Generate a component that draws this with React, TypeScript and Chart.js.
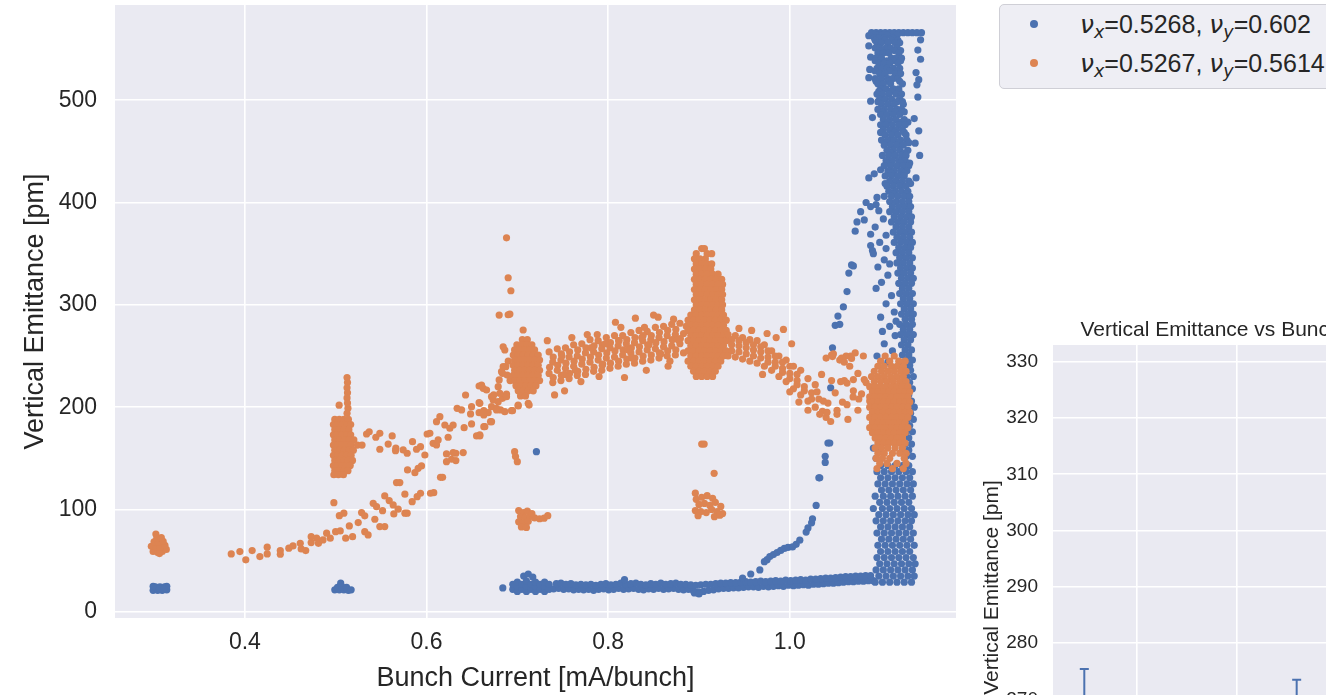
import { useEffect, useRef } from "react";
import { Chart, registerables } from "chart.js";

Chart.register(...registerables);

const FONT = "'Liberation Sans', Arial, Helvetica, sans-serif";
const MATH_FONT = "'DejaVu Sans', sans-serif";
const TEXT = "#262626";
const BLUE = "#4C72B0";
const ORANGE = "#DD8452";
const AXES_BG = "#EAEAF2";
const DOT_RADIUS = 3.6;

// Tunes of the two machine settings (legend)
const tuneX = ["0.5268", "0.5267"];
const tuneY = ["0.602", "0.5614"];
const seriesColors = [BLUE, ORANGE];

// Main scatter: axis ranges and ticks
const currentRange = [0.257, 1.183];
const emittanceRange = [-6, 593];
const currentTicks = [0.4, 0.6, 0.8, 1.0];
const emittanceTicks = [0, 100, 200, 300, 400, 500];

// ---------- nu_y = 0.602 (blue) : [current, emittance] pairs ----------
const blueAt030 = [
  0.299, 21, 0.304, 21, 0.309, 21, 0.314, 21.5, 0.3015, 24.5, 0.3065, 24.5, 0.3115, 24.5,
  0.299, 25, 0.314, 25, 0.306, 22.5, 0.311, 22,
];
const blueAt051 = [
  0.499, 21.5, 0.504, 21.5, 0.509, 21.5, 0.514, 21, 0.502, 24, 0.507, 24.5, 0.512, 24,
  0.5055, 28, 0.517, 21.5,
];
const blueAt072 = [
  0.684, 23.4, 0.695, 22, 0.695, 27, 0.7, 20, 0.7, 25, 0.7, 29, 0.705, 22, 0.705, 27, 0.707, 35,
  0.71, 20, 0.71, 25, 0.71, 30, 0.712, 37, 0.715, 22, 0.715, 27, 0.717, 34, 0.72, 20, 0.72, 25,
  0.72, 29, 0.725, 22, 0.725, 27, 0.73, 20, 0.73, 25, 0.73, 29, 0.735, 22, 0.735, 27, 0.721, 156.5,
];
const blueBaseLow = [
  0.74, 22.5, 0.7455, 23, 0.751, 22, 0.7565, 22.5, 0.762, 21.5, 0.7675, 22, 0.773, 21.5,
  0.7785, 22, 0.784, 21, 0.7895, 22, 0.795, 22.5, 0.8005, 21.5, 0.806, 22, 0.8115, 23,
  0.817, 22, 0.8225, 22.5, 0.828, 23, 0.8335, 22, 0.839, 21.5, 0.8445, 22.5, 0.85, 22,
  0.8555, 23, 0.861, 22, 0.8665, 22.5, 0.872, 23, 0.8775, 22, 0.883, 21.5, 0.8885, 22,
  0.894, 20.5, 0.8995, 19.5, 0.905, 20, 0.9105, 21, 0.916, 21.5, 0.9215, 22.5, 0.927, 23,
  0.9325, 23, 0.938, 23.5, 0.9435, 23.5, 0.949, 24, 0.9545, 24.5, 0.96, 24.5, 0.9655, 24,
  0.971, 25, 0.9765, 24.5, 0.982, 25, 0.9875, 25.5, 0.993, 25, 0.9985, 26, 1.004, 25.5,
  1.0095, 26, 1.015, 26.5, 1.0205, 26, 1.026, 27, 1.0315, 27, 1.037, 27.5, 1.0425, 28,
  1.048, 28, 1.0535, 28.5, 1.059, 29, 1.0645, 29.5, 1.07, 29.5, 1.0755, 30, 1.081, 30,
  1.0865, 30.5, 1.092, 30.5, 0.895, 18.5, 0.9, 17.5,
];
const blueBaseHigh = [
  0.743, 27.5, 0.748, 28, 0.7535, 27, 0.759, 27.5, 0.7645, 26.5, 0.77, 27, 0.7755, 26.5,
  0.781, 27, 0.7865, 26, 0.792, 27, 0.7975, 27.5, 0.803, 26.5, 0.8085, 27, 0.814, 28,
  0.8195, 27, 0.825, 27.5, 0.8305, 28, 0.836, 27, 0.8415, 26.5, 0.847, 27.5, 0.8525, 27,
  0.858, 28, 0.8635, 27, 0.869, 27.5, 0.8745, 28, 0.88, 27, 0.8855, 27, 0.891, 26.5,
  0.8965, 26, 0.902, 26.5, 0.9075, 27, 0.913, 27, 0.9185, 27.5, 0.924, 28, 0.9295, 28,
  0.935, 28.5, 0.9405, 28.5, 0.946, 29, 0.9515, 29.5, 0.957, 29, 0.9625, 29.5, 0.968, 30,
  0.9735, 29.5, 0.979, 30, 0.9845, 30.5, 0.99, 30, 0.9955, 31, 1.001, 30.5, 1.0065, 31,
  1.012, 31.5, 1.0175, 31, 1.023, 32, 1.0285, 32, 1.034, 32.5, 1.0395, 33, 1.045, 33,
  1.0505, 33.5, 1.056, 34, 1.0615, 34.5, 1.067, 34.5, 1.0725, 35, 1.078, 35, 1.0835, 35.5,
  1.089, 35.5, 0.818, 31.5,
];
const blueBlowUp = [
  0.948, 33, 0.957, 37, 0.967, 41, 0.972, 49, 0.975, 51, 0.978, 54, 0.982, 56, 0.986, 58,
  0.99, 60, 0.994, 62, 0.998, 63, 1.003, 63.5, 1.007, 66, 1.011, 70, 1.018, 78, 1.02, 82,
  1.024, 87, 1.025, 91, 1.029, 104, 1.032, 131, 1.033, 131, 1.039, 146, 1.039, 152,
  1.042, 165, 1.044, 165, 1.045, 219, 1.047, 258, 1.05, 280, 1.055, 281, 1.053, 289,
  1.059, 298, 1.063, 313, 1.065, 331, 1.068, 339, 1.07, 338, 1.072, 372, 1.074, 381,
  1.078, 391, 1.082, 383, 1.084, 400, 1.089, 396, 1.095, 398, 1.089, 358, 1.091, 353,
  1.087, 424, 1.093, 428, 1.096, 405, 1.1, 432, 1.091, 483, 1.089, 499, 1.087, 522,
  1.089, 542, 1.087, 563, 1.087, 553, 1.088, 530,
];
const blueColumnEdge = [
  1.144, 559, 1.141, 549, 1.144, 540, 1.139, 527, 1.142, 520, 1.14, 515, 1.141, 503,
  1.137, 482, 1.142, 470, 1.138, 458, 1.143, 446, 1.139, 424,
  1.098, 392, 1.103, 384, 1.094, 376, 1.106, 368, 1.099, 361, 1.092, 350, 1.104, 344,
  1.097, 337, 1.108, 329, 1.101, 322, 1.095, 316, 1.106, 355, 1.089, 369, 1.11, 340,
  1.112, 309, 1.106, 301, 1.115, 293, 1.1, 288, 1.11, 279, 1.116, 270, 1.104, 262,
  1.113, 255, 1.096, 250, 1.108, 244, 1.117, 284, 1.102, 274,
  1.1, 220, 1.105, 200, 1.095, 180, 1.11, 170, 1.098, 158, 1.092, 160, 1.095, 150,
];
// rows of the saturated column: [emittance, current, current, ...]
const blueColumnRows = [
  [566, 1.09, 1.095, 1.1, 1.105, 1.11, 1.115, 1.12, 1.125, 1.13, 1.135, 1.14, 1.145],
  [563.5, 1.096, 1.101, 1.107, 1.118],
  [561, 1.093, 1.098, 1.104, 1.113],
  [558.5, 1.094, 1.105, 1.112, 1.119],
  [556, 1.096, 1.101, 1.108, 1.116, 1.121],
  [551, 1.094, 1.099, 1.106, 1.111, 1.118],
  [548.5, 1.101, 1.115, 1.122],
  [546, 1.097, 1.103, 1.109, 1.12],
  [541, 1.095, 1.101, 1.112, 1.117, 1.123],
  [538.5, 1.094, 1.107, 1.114, 1.122],
  [536, 1.098, 1.104, 1.11, 1.119],
  [531, 1.096, 1.102, 1.107, 1.114, 1.121],
  [528.5, 1.094, 1.11, 1.118],
  [526, 1.099, 1.105, 1.116, 1.122],
  [521, 1.094, 1.101, 1.108, 1.113, 1.119],
  [518.5, 1.095, 1.108, 1.121],
  [516, 1.097, 1.103, 1.111, 1.124],
  [511, 1.1, 1.106, 1.114, 1.12],
  [508.5, 1.098, 1.111, 1.12],
  [506, 1.096, 1.102, 1.109, 1.117, 1.123],
  [501, 1.099, 1.105, 1.112, 1.121],
  [498.5, 1.097, 1.118, 1.124],
  [496, 1.101, 1.108, 1.115, 1.125],
  [491, 1.097, 1.104, 1.111, 1.118, 1.123],
  [488.5, 1.102, 1.116, 1.126],
  [486, 1.1, 1.107, 1.114, 1.121],
  [481, 1.103, 1.11, 1.117, 1.126],
  [478.5, 1.108, 1.123, 1.13],
  [476, 1.1, 1.106, 1.113, 1.12, 1.127],
  [471, 1.103, 1.11, 1.117, 1.124],
  [468.5, 1.1, 1.115, 1.126],
  [466, 1.105, 1.112, 1.119, 1.128],
  [461, 1.101, 1.108, 1.115, 1.122, 1.129],
  [458.5, 1.106, 1.12, 1.131],
  [456, 1.104, 1.111, 1.118, 1.125],
  [451, 1.107, 1.114, 1.121, 1.13],
  [448.5, 1.111, 1.126],
  [446, 1.102, 1.109, 1.116, 1.123, 1.128],
  [441, 1.106, 1.113, 1.12, 1.127],
  [438.5, 1.108, 1.122, 1.132],
  [436, 1.104, 1.111, 1.118, 1.125, 1.131],
  [431, 1.108, 1.115, 1.122, 1.129],
  [428.5, 1.112, 1.126],
  [426, 1.105, 1.112, 1.119, 1.126],
  [421, 1.11, 1.117, 1.124, 1.131],
  [418.5, 1.105, 1.121, 1.133],
  [416, 1.107, 1.114, 1.121, 1.128],
  [411, 1.109, 1.116, 1.123, 1.13],
  [408.5, 1.114, 1.128],
  [406, 1.104, 1.112, 1.119, 1.126, 1.132],
  [401, 1.11, 1.117, 1.124, 1.131],
  [396, 1.113, 1.12, 1.127, 1.133],
  [391, 1.11, 1.117, 1.124, 1.131],
  [386, 1.115, 1.122, 1.129, 1.134],
  [381, 1.112, 1.119, 1.126, 1.133],
  [376, 1.117, 1.124, 1.131],
  [371, 1.114, 1.121, 1.128, 1.134],
  [366, 1.118, 1.125, 1.132],
  [361, 1.115, 1.122, 1.129, 1.135],
  [356, 1.12, 1.127, 1.133],
  [351, 1.117, 1.124, 1.131],
  [346, 1.121, 1.128, 1.135],
  [341, 1.118, 1.125, 1.132],
  [336, 1.122, 1.129, 1.135],
  [331, 1.119, 1.126, 1.133],
  [326, 1.123, 1.13, 1.136],
  [321, 1.12, 1.127, 1.134],
  [316, 1.124, 1.131],
  [311, 1.121, 1.128, 1.135],
  [306, 1.125, 1.132],
  [301, 1.122, 1.129, 1.136],
  [296, 1.126, 1.133],
  [291, 1.123, 1.13, 1.136],
  [286, 1.127, 1.134],
  [281, 1.121, 1.128, 1.135],
  [276, 1.125, 1.132],
  [271, 1.122, 1.129, 1.136],
  [266, 1.126, 1.133],
  [261, 1.123, 1.13],
  [256, 1.127, 1.134],
  [251, 1.124, 1.131],
  [246, 1.128, 1.135],
  [241, 1.125, 1.132],
  [236, 1.126, 1.133],
  [230, 1.129, 1.136],
  [224, 1.125, 1.132],
  [218, 1.128, 1.135],
  [212, 1.124, 1.131],
  [206, 1.127, 1.134],
  [200, 1.13, 1.137],
  [194, 1.126, 1.133],
  [188, 1.129, 1.136],
  [182, 1.125, 1.132],
  [176, 1.128, 1.135],
  [170, 1.131],
  [164, 1.127, 1.134],
  [158, 1.124, 1.131],
  [152, 1.128, 1.135],
  [143, 1.1, 1.108, 1.116, 1.124, 1.131],
  [137, 1.096, 1.104, 1.112, 1.12, 1.128, 1.135],
  [131, 1.1, 1.108, 1.116, 1.124, 1.132],
  [125, 1.097, 1.105, 1.113, 1.121, 1.129, 1.136],
  [119, 1.101, 1.109, 1.117, 1.125, 1.133],
  [113, 1.094, 1.103, 1.111, 1.119, 1.127, 1.135],
  [107, 1.099, 1.107, 1.115, 1.123, 1.131],
  [101, 1.092, 1.102, 1.11, 1.118, 1.126, 1.134],
  [95, 1.098, 1.106, 1.114, 1.122, 1.13, 1.137],
  [89, 1.095, 1.103, 1.111, 1.119, 1.127, 1.134],
  [83, 1.1, 1.108, 1.116, 1.124, 1.132],
  [77, 1.096, 1.104, 1.112, 1.12, 1.128, 1.136],
  [71, 1.101, 1.109, 1.117, 1.125, 1.133],
  [65, 1.097, 1.105, 1.113, 1.121, 1.129, 1.137],
  [59, 1.1, 1.108, 1.116, 1.124, 1.132],
  [53, 1.096, 1.104, 1.112, 1.12, 1.128, 1.136],
  [47, 1.099, 1.107, 1.115, 1.123, 1.131, 1.138],
  [41, 1.095, 1.103, 1.111, 1.119, 1.127, 1.135],
  [35, 1.098, 1.106, 1.114, 1.122, 1.13, 1.137],
  [29, 1.094, 1.102, 1.11, 1.118, 1.126, 1.134],
];

// ---------- nu_y = 0.5614 (orange) ----------
const orangeAt030 = [
  0.299, 59, 0.304, 58, 0.309, 59, 0.3135, 61, 0.297, 64, 0.302, 63.5, 0.307, 63, 0.312, 65,
  0.3, 68.5, 0.305, 68, 0.31, 69, 0.303, 72, 0.308, 72.5, 0.302, 76, 0.306, 57,
];
const orangeLowBranch = [
  0.385, 56.6, 0.3945, 58.9, 0.401, 50.8, 0.408, 59.9, 0.4165, 54, 0.4246, 63.2, 0.4246, 56.6,
  0.439, 59.9, 0.439, 56.3, 0.4484, 62.2, 0.453, 64.4, 0.461, 67, 0.462, 61.5, 0.467, 59.9,
  0.473, 67.7, 0.473, 73.5, 0.479, 72, 0.481, 67, 0.486, 70.3, 0.49, 76.9, 0.494, 72,
  0.4999, 78.4, 0.505, 79.1, 0.504, 94, 0.509, 96.4, 0.498, 106.7, 0.511, 72, 0.515, 84,
  0.5186, 73.5, 0.5248, 87.2, 0.5285, 97, 0.532, 93.8, 0.532, 78.4, 0.5357, 75.2,
  0.5413, 106.1, 0.545, 102.8, 0.5431, 90.5, 0.5486, 83.3, 0.554, 83.3, 0.5516, 98.9,
  0.554, 113.3, 0.5589, 108.7, 0.5633, 104.5, 0.564, 95.7, 0.5688, 100.3, 0.5762, 115,
  0.5762, 96.4, 0.5787, 96.4, 0.567, 126.3, 0.5706, 126.3, 0.5791, 138.7, 0.5842, 107.7,
  0.5872, 136, 0.5897, 112.6, 0.5908, 140.3, 0.5945, 142.6, 0.5934, 115.9, 0.6044, 115.9,
  0.608, 116.5, 0.6154, 131.5, 0.6177, 131.5, 0.622, 146.8, 0.6276, 149.1, 0.6323, 155,
  0.6404, 155.6, 0.6238, 170.6, 0.6551, 171.9, 0.6587, 171.9, 0.6631, 181, 0.6705, 185.8,
  0.6414, 180, 0.6496, 183.6, 0.6579, 194.6, 0.6631, 196.6, 0.6716, 200.5, 0.6789, 205.4,
  0.6837, 208.7, 0.6881, 212.9, 0.6947, 196.6, 0.7009, 201.2, 0.712, 203.8,
];
const orangeHighBranch = [
  0.534, 173.8, 0.5369, 176, 0.5442, 170.6, 0.5486, 174.5, 0.5486, 158.9, 0.5578, 164,
  0.5622, 171.9, 0.5662, 159.9, 0.5659, 157.5, 0.5743, 158.2, 0.5787, 155, 0.5846, 166.3,
  0.589, 158.9, 0.5934, 161.4, 0.5982, 153.3, 0.6007, 173.8, 0.6037, 174.5, 0.6073, 164.7,
  0.611, 163.1, 0.6128, 168, 0.622, 154.3, 0.6293, 155.6, 0.6323, 147.8, 0.611, 185.8,
  0.6147, 190.7, 0.6202, 182.6, 0.6257, 179.4, 0.6293, 182.6, 0.6337, 198.9, 0.6386, 197.3,
  0.643, 211.9, 0.6485, 193.4, 0.6496, 200.5, 0.6579, 204.4, 0.6631, 192.4, 0.6679, 194.6,
  0.6716, 210.3, 0.6771, 198.9, 0.6815, 197.3, 0.6624, 218.4, 0.6579, 220.7, 0.6661, 216.8,
  0.68, 226.6, 0.6837, 233.1, 0.6873, 239.6, 0.6888, 231.4, 0.713, 202.1,
  0.6606, 221.7, 0.6587, 203.8, 0.6624, 194, 0.6642, 181, 0.6587, 172.9, 0.6716, 185.8,
  0.6734, 207, 0.6789, 220, 0.6826, 234.7, 0.6844, 239.6, 0.6862, 255.9, 0.6844, 259,
  0.6771, 197.3, 0.6862, 195.6, 0.6936, 196.6, 0.7009, 202, 0.6807, 213.6, 0.6881, 210.3,
  0.674, 212, 0.69, 245, 0.692, 226,
];
const orangeAt051Top = [
  0.5125, 229, 0.513, 224, 0.5125, 219, 0.513, 214, 0.5125, 209, 0.513, 204, 0.5135, 199,
  0.5125, 194, 0.5038, 202,
];
const orangeAt051Rows = [
  [188, 0.499, 0.504, 0.509, 0.514],
  [183, 0.4975, 0.502, 0.5075, 0.5125, 0.5165],
  [178, 0.499, 0.504, 0.509, 0.5145],
  [173, 0.4975, 0.5015, 0.507, 0.512, 0.5165],
  [168, 0.499, 0.504, 0.5095, 0.5145, 0.52],
  [163, 0.4975, 0.502, 0.507, 0.512, 0.517, 0.524, 0.529],
  [158, 0.499, 0.5045, 0.5095, 0.5145, 0.5195],
  [153, 0.4975, 0.502, 0.507, 0.512, 0.517],
  [148, 0.499, 0.504, 0.509, 0.514, 0.5185],
  [143, 0.4975, 0.502, 0.507, 0.512, 0.516],
  [138, 0.499, 0.504, 0.509, 0.5135],
  [134, 0.498, 0.503, 0.5085],
];
const orangeAt072Rows = [
  [266, 0.7055, 0.711],
  [261, 0.6995, 0.705, 0.7105, 0.716],
  [256, 0.697, 0.7025, 0.708, 0.7135, 0.719],
  [251, 0.6955, 0.701, 0.7065, 0.712, 0.7175, 0.723],
  [246, 0.697, 0.7025, 0.708, 0.7135, 0.719, 0.7245],
  [241, 0.6955, 0.701, 0.7065, 0.712, 0.7175, 0.723],
  [236, 0.697, 0.7025, 0.708, 0.7135, 0.719, 0.7245],
  [231, 0.6955, 0.701, 0.7065, 0.712, 0.7175, 0.723],
  [226, 0.697, 0.7025, 0.708, 0.7135, 0.719, 0.7245],
  [221, 0.6985, 0.704, 0.7095, 0.715, 0.7205],
  [216, 0.701, 0.7065, 0.712, 0.7175],
  [211, 0.7035, 0.709],
];
const orangeAt072Other = [
  0.6881, 365.5, 0.6899, 326.5, 0.6929, 313.8, 0.68, 290, 0.6899, 290.3, 0.6918, 291,
  0.7064, 275.4, 0.7015, 99, 0.7065, 97, 0.711, 98.5, 0.7035, 93, 0.709, 92, 0.714, 93.5,
  0.7015, 88, 0.7065, 87, 0.712, 88.5, 0.7045, 83, 0.71, 82.5, 0.719, 91.8, 0.7245, 91,
  0.7295, 91.5, 0.7335, 94, 0.716, 96, 0.697, 156.5, 0.698, 151.7, 0.7, 146.8,
];
const orangeBandMid = [
  0.735, 254, 0.744, 257, 0.753, 258, 0.762, 261, 0.771, 262, 0.78, 266, 0.789, 265, 0.798, 268,
  0.807, 270, 0.816, 270, 0.825, 273, 0.834, 275, 0.843, 274, 0.852, 278, 0.861, 279, 0.87, 281,
  0.879, 282,
  0.7395, 249, 0.7485, 252, 0.7575, 254, 0.7665, 256, 0.7755, 258, 0.7845, 260, 0.7935, 261,
  0.8025, 263, 0.8115, 265, 0.8205, 266, 0.8295, 268, 0.8385, 270, 0.8475, 270, 0.8565, 273,
  0.8655, 275, 0.8745, 276,
  0.739, 244, 0.748, 246, 0.757, 249, 0.766, 250, 0.775, 253, 0.784, 254, 0.793, 257, 0.802, 258,
  0.811, 260, 0.82, 262, 0.829, 263, 0.838, 265, 0.847, 266, 0.856, 268, 0.865, 270, 0.874, 271,
  0.883, 272,
  0.7355, 239, 0.7445, 241, 0.7535, 243, 0.7625, 245, 0.7715, 247, 0.7805, 249, 0.7895, 251,
  0.7985, 253, 0.8075, 255, 0.8165, 256, 0.8255, 258, 0.8345, 259, 0.8435, 261, 0.8525, 263,
  0.8615, 264, 0.8705, 266, 0.8795, 267,
  0.735, 233, 0.744, 236, 0.753, 238, 0.762, 240, 0.771, 242, 0.78, 244, 0.789, 246, 0.798, 248,
  0.807, 249, 0.816, 251, 0.825, 253, 0.834, 254, 0.843, 256, 0.852, 257, 0.861, 259, 0.87, 260,
  0.879, 262,
  0.7395, 229, 0.7485, 231, 0.7575, 233, 0.7665, 235, 0.7755, 237, 0.7845, 239, 0.7935, 241,
  0.8025, 243, 0.8115, 245, 0.8205, 247, 0.8295, 248, 0.8385, 250, 0.8475, 251, 0.8565, 253,
  0.8655, 255, 0.8745, 256,
  0.739, 224, 0.748, 226, 0.757, 228, 0.766, 231, 0.775, 232, 0.784, 235, 0.793, 236, 0.802, 238,
  0.811, 240, 0.82, 242, 0.829, 243, 0.838, 245, 0.847, 246, 0.856, 248, 0.865, 250, 0.874, 251,
  0.883, 253,
  0.741, 212, 0.752, 216, 0.77, 225, 0.76, 268, 0.777, 271, 0.79, 230, 0.808, 283, 0.818, 229,
  0.83, 287, 0.842, 236, 0.85, 290, 0.855, 288, 0.866, 240, 0.872, 286, 0.886, 279, 0.733, 265,
  0.797, 262, 0.814, 278, 0.837, 268, 0.749, 250, 0.764, 236, 0.781, 258, 0.794, 242,
  0.812, 265, 0.826, 248, 0.845, 261, 0.858, 252, 0.877, 266, 0.752, 232, 0.788, 271,
  0.822, 256, 0.84, 278, 0.868, 245,
];
const orangeAt091Rows = [
  [355, 0.903, 0.906],
  [350, 0.897, 0.909, 0.914],
  [345, 0.895, 0.901, 0.907],
  [340, 0.897, 0.903, 0.909, 0.914],
  [335, 0.895, 0.901, 0.907, 0.913],
  [330, 0.897, 0.903, 0.909, 0.915, 0.921],
  [325, 0.895, 0.901, 0.907, 0.913, 0.919, 0.925],
  [320, 0.897, 0.903, 0.909, 0.915, 0.921, 0.926],
  [315, 0.895, 0.901, 0.907, 0.913, 0.919, 0.925],
  [310, 0.897, 0.903, 0.909, 0.915, 0.921, 0.926],
  [305, 0.895, 0.901, 0.907, 0.913, 0.919, 0.925],
  [300, 0.897, 0.903, 0.909, 0.915, 0.921, 0.926],
  [295, 0.895, 0.901, 0.907, 0.913, 0.919, 0.925],
  [290, 0.891, 0.897, 0.903, 0.909, 0.915, 0.921, 0.927],
  [285, 0.888, 0.894, 0.9, 0.906, 0.912, 0.918, 0.924, 0.93],
  [280, 0.891, 0.897, 0.903, 0.909, 0.915, 0.921, 0.927],
  [275, 0.888, 0.894, 0.9, 0.906, 0.912, 0.918, 0.924, 0.93],
  [270, 0.891, 0.897, 0.903, 0.909, 0.915, 0.921, 0.927],
  [265, 0.888, 0.894, 0.9, 0.906, 0.912, 0.918, 0.924, 0.93],
  [260, 0.891, 0.897, 0.903, 0.909, 0.915, 0.921, 0.927],
  [255, 0.888, 0.894, 0.9, 0.906, 0.912, 0.918, 0.924, 0.93],
  [250, 0.891, 0.897, 0.903, 0.909, 0.915, 0.921, 0.927],
  [245, 0.888, 0.894, 0.9, 0.906, 0.912, 0.918, 0.924],
  [240, 0.891, 0.897, 0.903, 0.909, 0.915, 0.921],
  [235, 0.894, 0.9, 0.906, 0.912, 0.918],
  [230, 0.897, 0.903, 0.909, 0.915],
];
const orangeAt091Low = [
  0.897, 110, 0.903, 112, 0.909, 113.5, 0.915, 111, 0.9, 105, 0.906, 106, 0.912, 104, 0.918, 107,
  0.924, 103, 0.896, 99, 0.902, 98, 0.908, 97, 0.914, 100, 0.92, 98, 0.926, 96, 0.899, 94,
  0.917, 93, 0.923, 94.5, 0.896, 116, 0.903, 164, 0.9057, 164, 0.9167, 135.4,
];
const orangeBandHigh = [
  0.932, 271, 0.94, 270, 0.948, 268, 0.956, 266, 0.964, 265, 0.972, 261, 0.98, 255, 0.988, 250,
  0.996, 246, 1.004, 240, 1.012, 236, 1.02, 228, 1.028, 222,
  0.936, 266, 0.944, 265, 0.952, 263, 0.96, 261, 0.968, 259, 0.976, 255, 0.984, 250, 0.992, 244,
  1.0, 240, 1.008, 232,
  0.936, 261, 0.944, 260, 0.952, 258, 0.96, 256, 0.968, 254, 0.976, 249, 0.984, 244, 0.992, 238,
  1.0, 233, 1.008, 226, 1.016, 220, 1.024, 214, 1.032, 208,
  0.936, 255, 0.944, 254, 0.952, 252, 0.96, 250, 0.968, 248, 0.976, 244, 0.984, 240, 0.992, 234,
  1.0, 228, 1.008, 222, 1.016, 216, 1.024, 208,
  0.932, 250, 0.94, 249, 0.948, 247, 0.956, 245, 0.964, 243, 0.972, 240, 0.98, 236, 0.988, 230,
  0.996, 225, 1.004, 218, 1.012, 212, 1.02, 206, 1.028, 200, 1.036, 196,
  0.944, 277, 0.958, 275, 0.975, 272, 0.985, 268, 0.993, 276, 1.002, 262, 0.97, 232, 1.0, 215,
  1.01, 205, 1.02, 197, 1.04, 190, 1.045, 186, 1.05, 214, 1.046, 226, 1.055, 246, 1.06, 226,
  1.066, 240, 1.07, 216, 1.075, 197, 1.058, 205, 1.052, 193, 1.064, 188, 1.081, 250, 1.075, 233,
  1.084, 224, 1.088, 206, 1.079, 213, 1.035, 232, 1.04, 248, 1.048, 252, 1.062, 250, 1.072, 253,
  1.042, 204, 1.03, 215, 1.046, 251, 1.057, 248, 1.067, 250, 1.063, 223.6, 1.0697, 210,
  1.047, 249.5, 1.06, 244, 1.068, 247.6, 1.056, 225, 1.07, 227, 1.082, 227, 1.037, 206,
  1.052, 197, 1.063, 202.5, 1.076, 208, 1.041, 195, 1.033, 193,
];
const orangeAt111Rows = [
  [250, 1.105, 1.115],
  [245, 1.1, 1.11, 1.12, 1.127],
  [240, 1.097, 1.104, 1.112, 1.118, 1.125],
  [235, 1.093, 1.101, 1.108, 1.115, 1.122, 1.128],
  [230, 1.09, 1.097, 1.104, 1.111, 1.118, 1.125],
  [225, 1.093, 1.1, 1.107, 1.114, 1.121, 1.128],
  [220, 1.088, 1.094, 1.1, 1.106, 1.112, 1.118, 1.124, 1.13],
  [215, 1.091, 1.097, 1.103, 1.109, 1.115, 1.121, 1.127, 1.132],
  [210, 1.088, 1.094, 1.1, 1.106, 1.112, 1.118, 1.124, 1.13],
  [205, 1.091, 1.097, 1.103, 1.109, 1.115, 1.121, 1.127, 1.132],
  [200, 1.088, 1.094, 1.1, 1.106, 1.112, 1.118, 1.124, 1.13],
  [195, 1.091, 1.097, 1.103, 1.109, 1.115, 1.121, 1.127, 1.132],
  [190, 1.088, 1.094, 1.1, 1.106, 1.112, 1.118, 1.124, 1.13],
  [185, 1.091, 1.097, 1.103, 1.109, 1.115, 1.121, 1.127],
  [180, 1.088, 1.094, 1.1, 1.106, 1.112, 1.118, 1.124, 1.13],
  [175, 1.091, 1.097, 1.103, 1.109, 1.115, 1.121, 1.127],
  [170, 1.094, 1.1, 1.106, 1.112, 1.118, 1.124],
  [165, 1.097, 1.103, 1.109, 1.115, 1.121, 1.127],
  [160, 1.094, 1.101, 1.108, 1.116, 1.124],
  [155, 1.097, 1.104, 1.113, 1.121, 1.128],
  [150, 1.095, 1.102, 1.11, 1.126],
  [145, 1.099, 1.107, 1.118, 1.128],
  [140, 1.096, 1.113, 1.125],
];

// Detail panel: averaged emittance per bunch-current step
const detailTitle = "Vertical Emittance vs Bunch Current";
const detailCurrentTicks = [0.35, 0.45, 0.55, 0.65];
const detailCurrentRange = [0.2652, 0.7482];
const detailEmittanceRange = [246.8, 332.97];
const detailEmittanceTicks = [250, 260, 270, 280, 290, 300, 310, 320, 330];
const detailCurrent = [0.2967, 0.5104];
const detailMean = [262.0, 260.4];
const detailErr = [13.4, 13.1];

type Pt = { x: number; y: number };
const fromPairs = (flat: number[]): Pt[] => {
  const out: Pt[] = [];
  for (let i = 0; i + 1 < flat.length; i += 2) out.push({ x: flat[i], y: flat[i + 1] });
  return out;
};
const fromRows = (rows: number[][]): Pt[] =>
  rows.flatMap(([y, ...xs]) => xs.map((x) => ({ x, y })));

const bluePoints: Pt[] = [
  ...fromPairs(blueAt030),
  ...fromPairs(blueAt051),
  ...fromPairs(blueAt072),
  ...fromPairs(blueBaseLow),
  ...fromPairs(blueBaseHigh),
  ...fromPairs(blueBlowUp),
  ...fromPairs(blueColumnEdge),
  ...fromRows(blueColumnRows),
];
const orangePoints: Pt[] = [
  ...fromPairs(orangeAt030),
  ...fromPairs(orangeLowBranch),
  ...fromPairs(orangeHighBranch),
  ...fromPairs(orangeAt051Top),
  ...fromRows(orangeAt051Rows),
  ...fromRows(orangeAt072Rows),
  ...fromPairs(orangeAt072Other),
  ...fromPairs(orangeBandMid),
  ...fromRows(orangeAt091Rows),
  ...fromPairs(orangeAt091Low),
  ...fromPairs(orangeBandHigh),
  ...fromRows(orangeAt111Rows),
];

// Fills the plotting area with the light axes colour before grid and points
const axesBackground = {
  id: "axesBackground",
  beforeDraw(chart: any) {
    const { ctx, chartArea: a } = chart;
    ctx.save();
    ctx.fillStyle = AXES_BG;
    ctx.fillRect(a.left, a.top, a.right - a.left, a.bottom - a.top);
    ctx.restore();
  },
};

// Vertical error bars with caps, positioned through the chart's own scales
const errorBars = {
  id: "errorBars",
  afterDatasetsDraw(chart: any) {
    const { ctx, chartArea: a } = chart;
    const xs = chart.scales.x;
    const ys = chart.scales.y;
    ctx.save();
    ctx.beginPath();
    ctx.rect(a.left, a.top, a.right - a.left, a.bottom - a.top);
    ctx.clip();
    ctx.strokeStyle = BLUE;
    ctx.lineWidth = 2;
    detailCurrent.forEach((c, i) => {
      const px = xs.getPixelForValue(c);
      const top = ys.getPixelForValue(detailMean[i] + detailErr[i]);
      const bot = ys.getPixelForValue(detailMean[i] - detailErr[i]);
      ctx.beginPath();
      ctx.moveTo(px, top);
      ctx.lineTo(px, bot);
      ctx.moveTo(px - 4.5, top);
      ctx.lineTo(px + 4.5, top);
      ctx.moveTo(px - 4.5, bot);
      ctx.lineTo(px + 4.5, bot);
      ctx.stroke();
    });
    ctx.restore();
  },
};

const gridStyle = { color: "#FFFFFF", lineWidth: 1.6, drawTicks: false };
const fixedTicks = (values: number[]) => (s: any) => {
  s.ticks = values.map((value) => ({ value }));
};
// fixed axis box sizes, without the extra room Chart.js keeps for edge labels
const fixedHeight = (h: number) => (s: any) => {
  s.height = h;
  s.paddingLeft = 0;
  s.paddingRight = 0;
};
const fixedWidth = (w: number) => (s: any) => {
  s.width = w;
  s.paddingTop = 0;
  s.paddingBottom = 0;
};

function MainScatter() {
  const ref = useRef<HTMLCanvasElement>(null);
  useEffect(() => {
    const chart = new Chart(ref.current as HTMLCanvasElement, {
      type: "scatter",
      data: {
        datasets: [
          {
            label: `nu_y=${tuneY[0]}`,
            data: bluePoints,
            backgroundColor: seriesColors[0],
            borderWidth: 0,
            pointRadius: DOT_RADIUS,
            pointHoverRadius: DOT_RADIUS,
            order: 2,
          },
          {
            label: `nu_y=${tuneY[1]}`,
            data: orangePoints,
            backgroundColor: seriesColors[1],
            borderWidth: 0,
            pointRadius: DOT_RADIUS,
            pointHoverRadius: DOT_RADIUS,
            order: 1,
          },
        ],
      },
      options: {
        animation: false,
        responsive: false,
        events: [],
        layout: { padding: { top: 5, right: 4, left: 0, bottom: 0 } },
        plugins: { legend: { display: false }, tooltip: { enabled: false } },
        scales: {
          x: {
            type: "linear",
            min: currentRange[0],
            max: currentRange[1],
            afterBuildTicks: fixedTicks(currentTicks),
            afterFit: fixedHeight(77),
            ticks: {
              callback: (v: any) => Number(v).toFixed(1),
              font: { family: FONT, size: 23 },
              color: TEXT,
              padding: 11,
            },
            grid: gridStyle,
            border: { display: false },
            title: {
              display: true,
              text: "Bunch Current [mA/bunch]",
              font: { family: FONT, size: 27 },
              color: TEXT,
              padding: { top: 0, bottom: 0 },
            },
          },
          y: {
            type: "linear",
            min: emittanceRange[0],
            max: emittanceRange[1],
            afterBuildTicks: fixedTicks(emittanceTicks),
            afterFit: fixedWidth(115),
            ticks: {
              font: { family: FONT, size: 23 },
              color: TEXT,
              padding: 18,
            },
            grid: gridStyle,
            border: { display: false },
            title: {
              display: true,
              text: "Vertical Emittance [pm]",
              font: { family: FONT, size: 27 },
              color: TEXT,
              padding: { top: 19, bottom: 0 },
            },
          },
        },
      },
      plugins: [axesBackground],
    } as any);
    return () => chart.destroy();
  }, []);
  return (
    <canvas
      ref={ref}
      width={960}
      height={695}
      style={{ position: "absolute", left: 0, top: 0, width: 960, height: 695 }}
    />
  );
}

function DetailPanel() {
  const ref = useRef<HTMLCanvasElement>(null);
  useEffect(() => {
    const chart = new Chart(ref.current as HTMLCanvasElement, {
      type: "scatter",
      data: {
        datasets: [
          {
            data: detailCurrent.map((c, i) => ({ x: c, y: detailMean[i] })),
            backgroundColor: BLUE,
            borderWidth: 0,
            pointRadius: 3,
          },
        ],
      },
      options: {
        animation: false,
        responsive: false,
        events: [],
        layout: { padding: 0 },
        plugins: {
          legend: { display: false },
          tooltip: { enabled: false },
          title: {
            display: true,
            text: detailTitle,
            font: { family: FONT, size: 21, weight: "normal" },
            color: TEXT,
            padding: { top: 7.4, bottom: 2.4 },
          },
        },
        scales: {
          x: {
            type: "linear",
            min: detailCurrentRange[0],
            max: detailCurrentRange[1],
            afterBuildTicks: fixedTicks(detailCurrentTicks),
            afterFit: fixedHeight(60),
            ticks: { font: { family: FONT, size: 19 }, color: TEXT, padding: 12 },
            grid: gridStyle,
            border: { display: false },
          },
          y: {
            type: "linear",
            min: detailEmittanceRange[0],
            max: detailEmittanceRange[1],
            afterBuildTicks: fixedTicks(detailEmittanceTicks),
            afterFit: fixedWidth(93),
            ticks: {
              font: { family: FONT, size: 19 },
              color: TEXT,
              padding: 15,
            },
            grid: gridStyle,
            border: { display: false },
            title: {
              display: true,
              text: "Vertical Emittance [pm]",
              font: { family: FONT, size: 21 },
              color: TEXT,
              padding: { top: 19.4, bottom: 0 },
            },
          },
        },
      },
      plugins: [axesBackground, errorBars],
    } as any);
    return () => chart.destroy();
  }, []);
  return (
    <canvas
      ref={ref}
      width={577}
      height={580}
      style={{ position: "absolute", left: 960, top: 310, width: 577, height: 580 }}
    />
  );
}

function TuneLabel({ nx, ny }: { nx: string; ny: string }) {
  const sym = { fontFamily: MATH_FONT, fontStyle: "italic" as const };
  const sub = {
    fontFamily: MATH_FONT,
    fontStyle: "italic" as const,
    fontSize: "0.7em",
    position: "relative" as const,
    top: "0.3em",
  };
  return (
    <>
      <span style={sym}>ν</span>
      <span style={sub}>x</span>={nx}, <span style={sym}>ν</span>
      <span style={sub}>y</span>={ny}
    </>
  );
}

function Legend() {
  const rows = [10, 49];
  const markerY = [24, 63];
  return (
    <>
      <div
        style={{
          position: "absolute",
          left: 999,
          top: 4,
          width: 380,
          height: 85,
          boxSizing: "border-box",
          border: "1px solid #CFCFD6",
          borderRadius: 5,
          background: "#EEEEF4",
        }}
      />
      {tuneX.map((nx, i) => (
        <div key={nx + i}>
          <div
            style={{
              position: "absolute",
              left: 1034 - 4.2,
              top: markerY[i] - 4.2,
              width: 8.4,
              height: 8.4,
              borderRadius: "50%",
              background: seriesColors[i],
            }}
          />
          <div
            style={{
              position: "absolute",
              left: 1080,
              top: rows[i],
              whiteSpace: "nowrap",
              fontFamily: FONT,
              fontSize: 25,
              lineHeight: "28px",
              color: TEXT,
            }}
          >
            <TuneLabel nx={nx} ny={tuneY[i]} />
          </div>
        </div>
      ))}
    </>
  );
}

export default function App() {
  return (
    <div
      style={{
        position: "fixed",
        left: 0,
        top: 0,
        width: 1326,
        height: 695,
        overflow: "hidden",
        background: "#FFFFFF",
      }}
    >
      <MainScatter />
      <DetailPanel />
      <Legend />
    </div>
  );
}
